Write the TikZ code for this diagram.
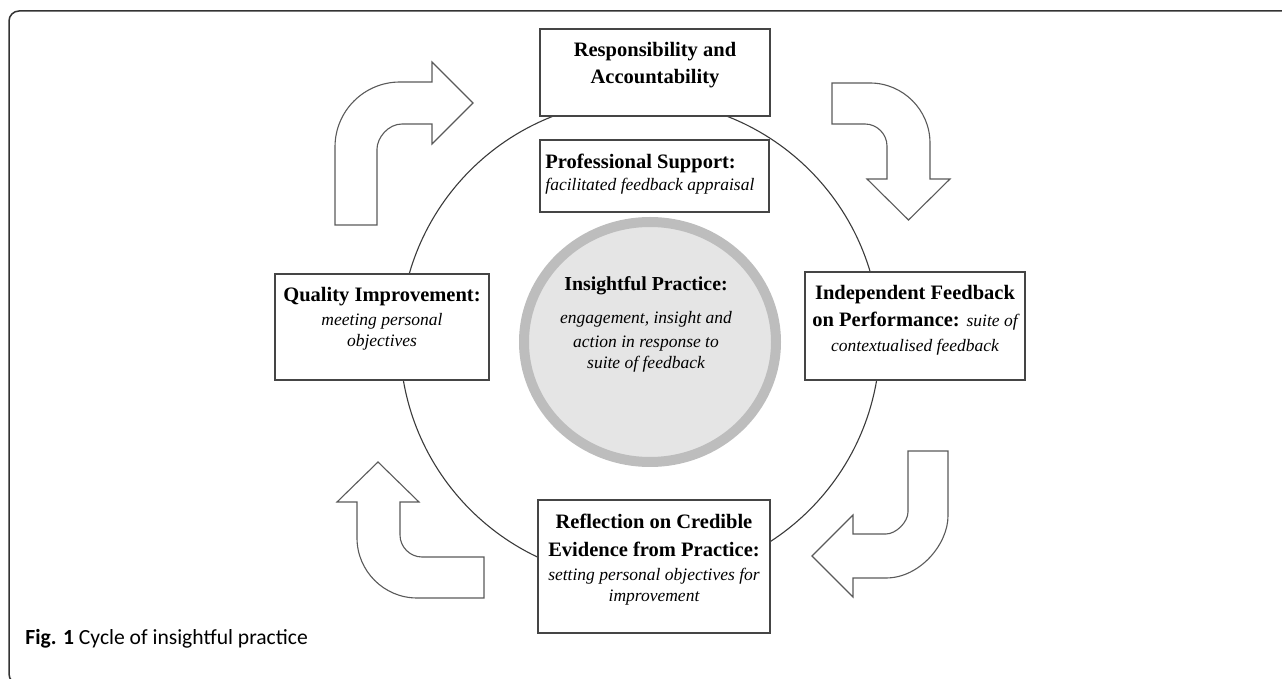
\documentclass[tikz,border=0pt]{standalone}
\usepackage{fontspec}
\setmainfont{Liberation Serif}
\newfontfamily\capfont{Carlito}
\usetikzlibrary{fit,shapes.geometric}
\definecolor{boxgray}{HTML}{454545}
\definecolor{arrgray}{HTML}{5A5A5A}
\definecolor{circgray}{HTML}{3A3A3A}
\definecolor{ringgray}{HTML}{BDBDBD}
\definecolor{coregray}{HTML}{E5E5E5}
\definecolor{framegray}{HTML}{333333}
\newcommand\bfline{\fontsize{10.25}{13.5}\selectfont\bfseries}
\newcommand\itline[1]{{\fontsize{8.75}{13.5}\selectfont\mdseries\itshape #1}}
\begin{document}
\begin{tikzpicture}[x=0.5pt,y=-0.5pt,
  box/.style={draw=boxgray, line width=0.65pt, fill=white, inner sep=0pt},
  txt/.style={inner sep=0pt, align=center, font=\bfline},
  bentarrow/.style={draw=arrgray, line width=0.55pt, fill=white, line join=miter}]
\useasboundingbox (0,0) rectangle (1282,679);
% frame
\begin{scope}
\clip (0,0) rectangle (1282,679);
\draw[framegray, line width=0.75pt, rounded corners=5pt] (9,11) rectangle (1300,684);
\end{scope}
% big cycle circle
\node[circle, draw=circgray, line width=0.55pt, minimum size=240pt, inner sep=0pt] (cyc) at (640,340) {};
% core ellipse
\node[ellipse, draw=ringgray, fill=coregray, line width=5pt, minimum width=126pt, minimum height=120pt, inner sep=0pt] (core) at (650,342) {};
\node[txt, anchor=north] (coretext) at (646,276)
  {{\fontsize{9.9}{13.5}\selectfont Insightful Practice:}\\[3.25pt]
   \itline{engagement, insight and}\\[-1.75pt]
   \itline{action in response to}\\[-2.75pt]
   \itline{suite of feedback}};
% boxes
\node[box, fit={(540,29) (770,116)}] (resp) {};
\node[txt, anchor=north] (resptext) at (655,42) {Responsibility and\\Accountability};
\node[box, fit={(540,140) (769,212)}] (prof) {};
\node[txt, anchor=north west, align=left] (proftext) at (545,154)
  {Professional Support:\\[-2.75pt]\itline{facilitated feedback appraisal}};
\node[box, fit={(275,274) (489,380)}] (qual) {};
\node[txt, anchor=north] (qualtext) at (382,287)
  {Quality Improvement:\\[-1.75pt]\itline{meeting personal}\\[-2.75pt]\itline{objectives}};
\node[box, fit={(805,272) (1025,380)}] (indep) {};
\node[txt, anchor=north] (indeptext) at (915,285)
  {Independent Feedback\\on Performance: \itline{suite of}\\[-1.25pt]\itline{contextualised feedback}};
\node[box, fit={(538,500) (770,633)}] (refl) {};
\node[txt, anchor=north] (refltext) at (654,514)
  {Reflection on Credible\\[0.25pt]Evidence from Practice:\\[-1.5pt]\itline{setting personal objectives for}\\[-2.75pt]\itline{improvement}};
% bent arrows
\draw[bentarrow] (335,225) -- (335,147) .. controls (335,111) and (364,82) .. (400,82)
  -- (432,82) -- (432,62) -- (473,103) -- (432,144) -- (432,124) -- (402,124)
  .. controls (388,124) and (377,138) .. (377,149) -- (377,225) -- cycle;
\draw[bentarrow] (832,83) -- (870,83) .. controls (903,83) and (930,110) .. (930,143)
  -- (930,179) -- (950,179) -- (908.5,220) -- (867,179) -- (887,179) -- (887,146)
  .. controls (887,134) and (877,124) .. (865,124) -- (832,124) -- cycle;
\draw[bentarrow] (908,451) -- (948,451) -- (948,516) .. controls (948,544) and (920,578) .. (886,578)
  -- (853,578) -- (853,597) -- (812,556) -- (853,515) -- (853,534) -- (886,534)
  .. controls (896,534) and (908,522) .. (908,512) -- cycle;
\draw[bentarrow] (484,557) -- (422,557) .. controls (410,557) and (400,547) .. (400,535)
  -- (400,502) -- (419,502) -- (378,462) -- (337,502) -- (357,502) -- (357,538)
  .. controls (357,571) and (384,598) .. (417,598) -- (484,598) -- cycle;
% caption
\node[anchor=base west, inner sep=0pt, font=\capfont\fontsize{10.8}{12}\selectfont] (caption) at (25,645)
  {\textbf{Fig. 1} Cycle of insightful practice};
\end{tikzpicture}
\end{document}
